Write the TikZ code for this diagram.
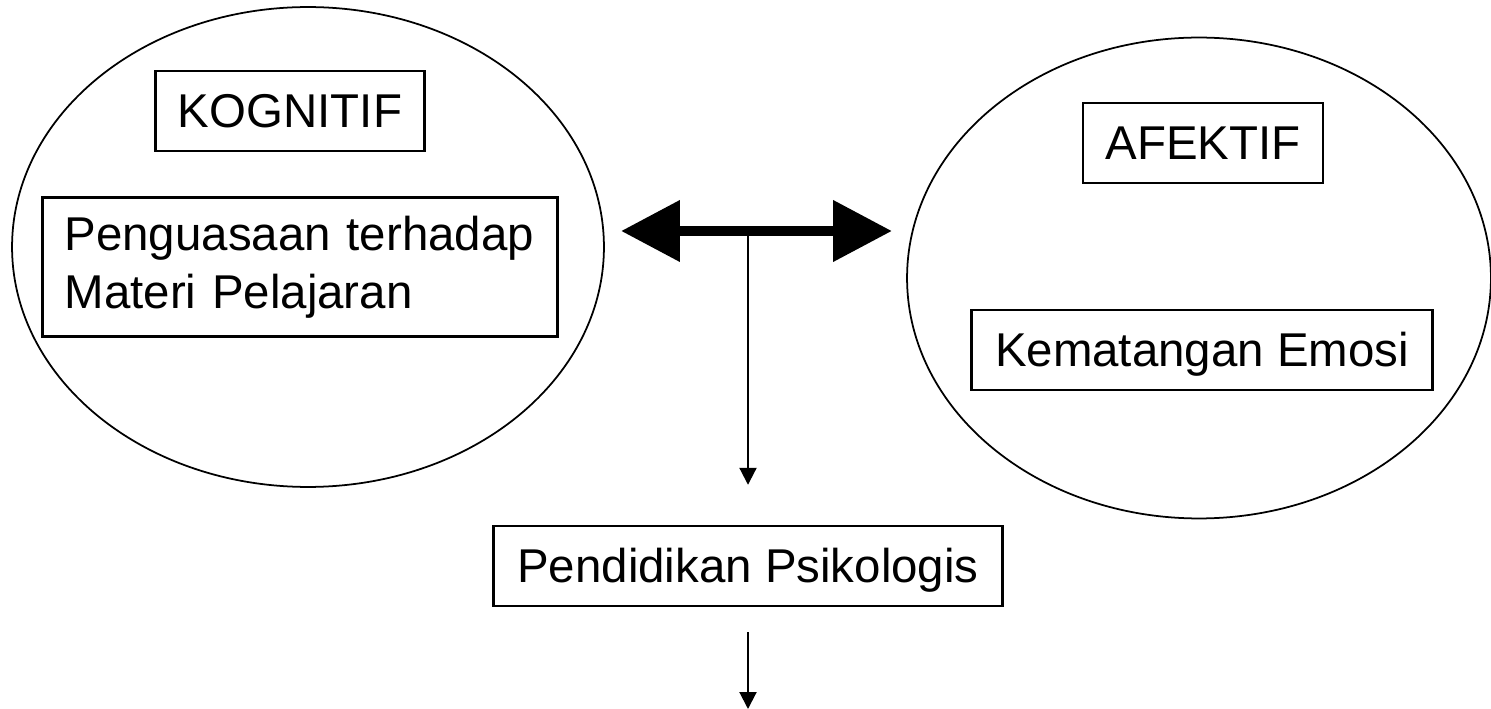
\documentclass[tikz,border=0pt]{standalone}
\usepackage{fontspec}
\setmainfont{Liberation Sans}
\usetikzlibrary{arrows.meta,shapes.geometric}
\tikzset{
  sphere/.style={
    % The shape:
    ellipse,
    % The size:
    inner sep=0pt,
    % The border:
    draw=black,
    line width=1pt},
  box/.style={
    % The shape:
    rectangle,
    % The size:
    minimum height=1.6cm,
    % The rest
    draw=black,line width=1.4pt,
    font=\fontsize{27}{33}\selectfont},
  one line/.style={
    box,
    text height=0.68cm,text depth=0pt},
  flow/.style={-{Triangle[length=0.34cm,width=0.34cm]},line width=1.2pt},
  both ways/.style={{Triangle[length=1.18cm,width=1.18cm]}-{Triangle[length=1.18cm,width=1.18cm]},
    line width=6.2pt}
}

\begin{document}
\begin{tikzpicture}[x=0.02cm,y=-0.02cm]
  \useasboundingbox (0,0) rectangle (1491,709);

  % the two spheres
  \node (kognitif) [sphere,minimum width=11.84cm,minimum height=9.6cm] at (308,247) {};
  \node (afektif)  [sphere,minimum width=11.68cm,minimum height=9.62cm] at (1199,278) {};

  \node (kog title) [one line,minimum width=5.38cm] at (290,111) {KOGNITIF};
  \node (kog item)  [box,align=left,text width=9.42cm,inner xsep=0.44cm,
                     minimum width=10.3cm,minimum height=2.78cm] at (300,267)
                    {Penguasaan terhadap\\Materi Pelajaran};

  \node (afe title) [one line,minimum width=4.8cm]  at (1203,143) {AFEKTIF};
  \node (afe item)  [one line,minimum width=9.22cm] at (1202,350) {Kematangan Emosi};

  \node (psiko) [one line,minimum width=10.18cm] at (748,566) {Pendidikan Psikologis};

  % connectors
  \coordinate (left end)  at (621,231);
  \coordinate (right end) at (892,231);
  \coordinate (joint)     at (748,231);
  \coordinate (out)       at (748,709);

  \draw[flow] (joint) -- ([yshift=0.8cm]psiko.north);
  \draw[both ways] (left end) -- (right end);
  \draw[flow] ([yshift=-0.5cm]psiko.south) -- (out);
\end{tikzpicture}
\end{document}
